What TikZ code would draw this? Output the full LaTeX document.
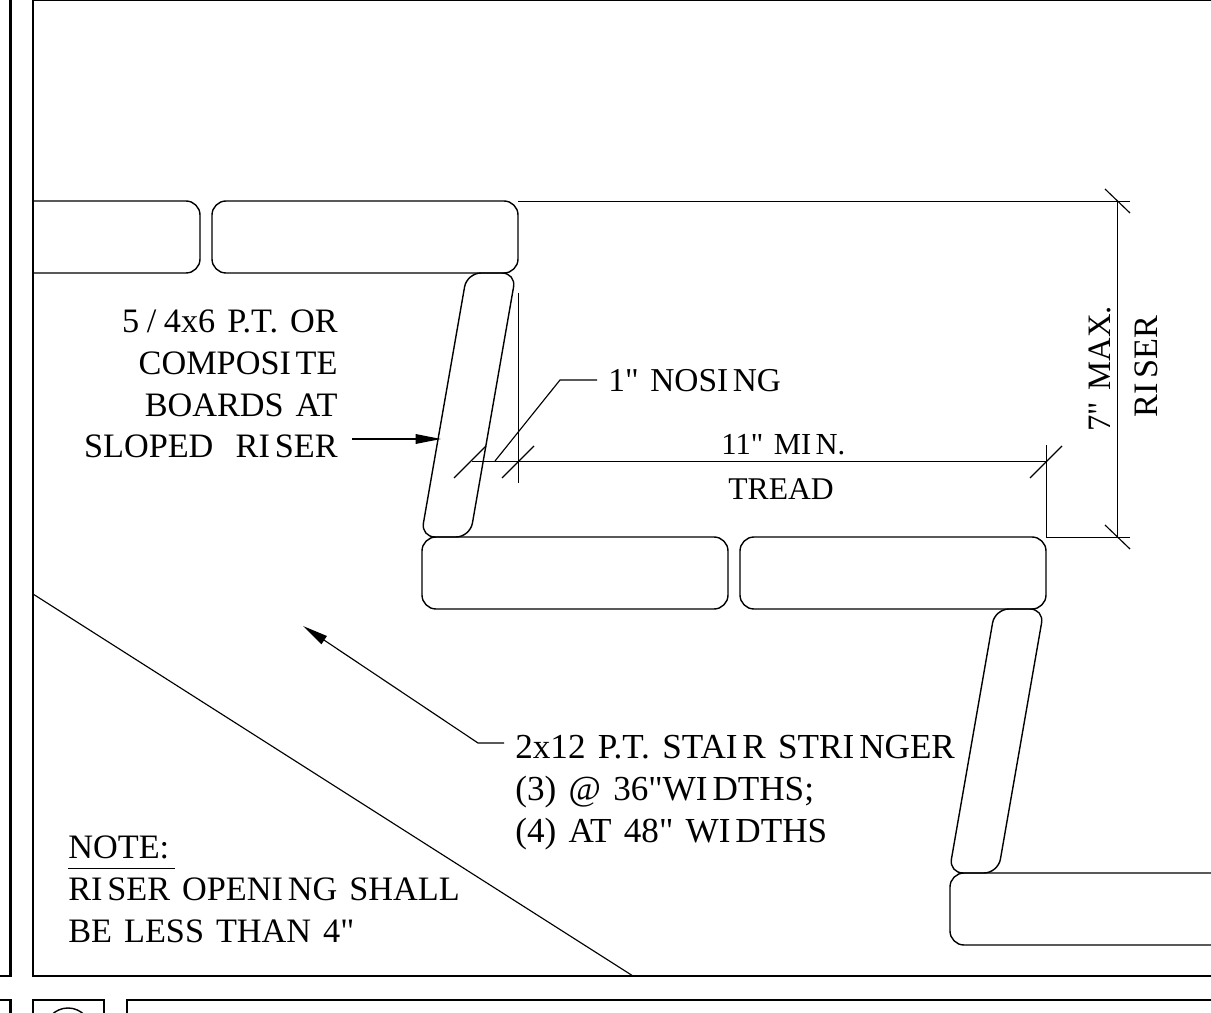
\documentclass[tikz,border=0pt]{standalone}
\usepackage{fontspec}
\newfontfamily\dwgfont[WordSpace=1.4]{Liberation Serif}
\usetikzlibrary{arrows.meta}
\newcommand{\Isp}{I\kern0.14em }
\tikzset{
  frameline/.style={line width=1.7pt},
  board/.style={line width=0.8pt,rounded corners=8pt},
  dimline/.style={line width=0.55pt},
  slantline/.style={line width=0.65pt},
  leader/.style={line width=0.65pt,-{Stealth[length=14.5pt,width=5.5pt,inset=0pt]}},
  callout/.style={font=\dwgfont\fontsize{19.5}{23.9}\selectfont,inner sep=0pt},
}
\begin{document}
\begin{tikzpicture}[x=0.02cm,y=-0.02cm]
\useasboundingbox (0,0) rectangle (1211,1013);
\clip (0,0) rectangle (1211,1013);

% sheet frames
\draw[frameline] (0,976)--(10.5,976)--(10.5,-5);
\draw[frameline] (1220,976)--(33,976)--(33,0)--(1220,0);
\draw[frameline] (0,1000)--(10.5,1000)--(10.5,1020);
\draw[frameline] (33,1020)--(33,1000)--(104,1000)--(104,1020);
\draw[frameline] (127,1020)--(127,1000)--(1220,1000);
\draw[line width=0.8pt] (68,1031) circle (23);

% treads
\draw[board] (33,201)--(200,201)--(200,273)--(33,273);
\draw[board] (212,201) rectangle (518,273);
\draw[board] (422,537) rectangle (728,609);
\draw[board] (740,537) rectangle (1046,609);
\draw[board] (1225,873)--(950,873)--(950,945)--(1225,945);

% sloped risers
\draw[board] (467,273)--(516,273)--(470,537)--(421,537)--cycle;
\draw[board] (995,609)--(1044,609)--(998,873)--(949,873)--cycle;

% stringer line
\draw[slantline] (33,594)--(633,976);

% riser dimension
\coordinate (risertop) at (518,201);
\coordinate (riserbot) at (1046,537);
\draw[dimline] (risertop)--(1130,201);
\draw[dimline] (riserbot)--(1130,537);
\draw[dimline] (1117,201)--(1117,537);
\draw[slantline] (1105,189)--(1130,213);
\draw[slantline] (1105,525)--(1130,549);
\node[callout,font=\dwgfont\fontsize{18.6}{22}\selectfont,rotate=90,anchor=base west] (rmax) at (1110,432) {7" MAX.};
\node[callout,rotate=90,anchor=base west] (rname) at (1157,418) {R\Isp SER};

% tread dimension
\draw[dimline] (1046,445)--(riserbot);
\draw[dimline] (518,293)--(518,483);
\draw[dimline] (472,461.5)--(1046,461.5);
\draw[slantline] (454,478)--(486,446);
\draw[slantline] (502,478)--(534,446);
\draw[slantline] (1030,478)--(1062,446);
\node[callout,font=\dwgfont\fontsize{17.4}{20}\selectfont,anchor=base west] (tmin) at (721,455) {11" M\Isp N.};
\node[callout,font=\dwgfont\fontsize{18}{22}\selectfont,anchor=base west] (tname) at (728,500) {TREAD};

% nosing
\node[callout,font=\dwgfont\fontsize{19}{22}\selectfont,anchor=base west] (nosing) at (608,392) {1" NOS\Isp NG};
\coordinate (nosefoot) at (495,461);
\draw[slantline] (nosefoot)--(560,380)--(597,380);

% boards callout
\node[callout,align=right,anchor=base east] (boards) at (338,458) {5\kern.22em/\kern.22em 4x6 P.T. OR\\COMPOS\Isp TE\\BOARDS AT\\SLOPED\hspace{.65em}R\Isp SER};
\coordinate (boardtail) at (352,439);
\coordinate (boardtip) at (441,439);
\draw[leader] (boardtail)--(boardtip);

% stringer callout
\node[callout,font=\dwgfont\fontsize{20}{23.9}\selectfont,align=left,anchor=base west] (stringer) at (515,842) {2x12 P.T. STA\Isp R STR\Isp NGER\\(3) @ 36"W\Isp DTHS;\\(4) AT 48" W\Isp DTHS};
\coordinate (stringtail) at (504,743);
\coordinate (stringknee) at (478,743);
\coordinate (stringtip) at (303,626);
\draw[leader] (stringtail)--(stringknee)--(stringtip);

% note
\node[callout,align=left,anchor=base west] (note) at (68,942) {NOTE:\\R\Isp SER OPEN\Isp NG SHALL\\BE LESS THAN 4"};
\draw[dimline] (68,868)--(175,868);
\end{tikzpicture}
\end{document}
